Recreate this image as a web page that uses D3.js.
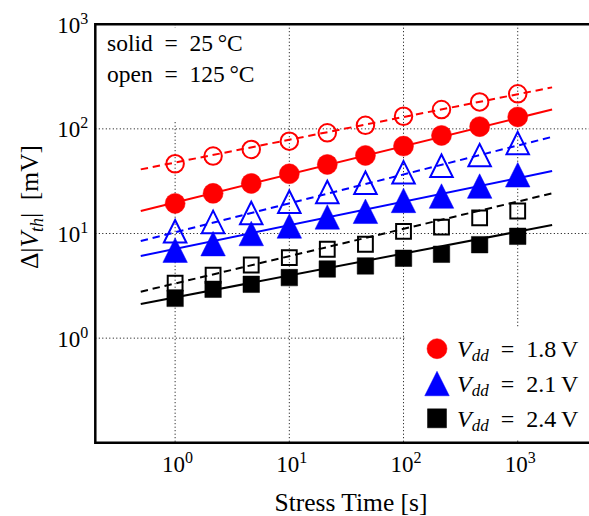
<!DOCTYPE html>
<html>
<head>
<meta charset="utf-8">
<script src="https://cdn.jsdelivr.net/npm/d3@7"></script>
<style>
  body { margin: 0; background: #fff; }
  svg { display: block; font-family: "Liberation Serif", "Times New Roman", serif; }
</style>
</head>
<body>
<svg width="589" height="516"></svg>
<script>
const svg = d3.select("svg");
const width = +svg.attr("width");
const height = +svg.attr("height");

// stress times (s), log spaced
const times = [1, 2.15, 4.64, 10, 21.5, 46.4, 100, 215, 464, 1000];

// measured shifts, mV (solid = 25 C, open = 125 C)
const v18solid = [19.4, 24.2, 30.1, 37.2, 45.7, 55.7, 68.4, 86.5, 105, 130];
const v18open = [46.4, 54.9, 63.6, 76.3, 91.6, 108, 132, 153, 181, 216];
const v21solid = [6.93, 8.0, 10.0, 11.8, 14.4, 16.3, 20.7, 22.8, 28.4, 36.4];
const v21open = [10.5, 12.9, 15.7, 20.1, 24.9, 30.5, 38.4, 44.4, 56.1, 73.1];
const v24solid = [2.40, 2.93, 3.27, 3.79, 4.58, 4.90, 5.80, 6.33, 7.82, 9.4];
const v24open = [3.35, 3.99, 5.0, 5.87, 7.07, 7.89, 10.5, 11.5, 14.1, 16.4];

// power-law fits, value at start / end of fit range
const fitTimes = [0.5, 2000];
const fit18solid = [16.4, 153];
const fit18open = [41, 249];
const fit21solid = [6.1, 39.5];
const fit21open = [8.48, 83.9];
const fit24solid = [2.12, 12.05];
const fit24open = [2.78, 24.2];

const voltages = ["1.8", "2.1", "2.4"];
const colors = ["#ff0000", "#0000ff", "#000000"];
const shapes = ["circle", "triangle", "square"];

const xTicks = [1, 10, 100, 1000];
const yTicks = [1, 10, 100, 1000];

const groups = [
  {solid: v18solid, open: v18open, fitSolid: fit18solid, fitOpen: fit18open},
  {solid: v21solid, open: v21open, fitSolid: fit21solid, fitOpen: fit21open},
  {solid: v24solid, open: v24open, fitSolid: fit24solid, fitOpen: fit24open}
];

const plotLeft = 95.3, plotTop = 24.2, plotBottom = 442.8;

const x = d3.scaleLog()
  .domain([0.2, 5000])
  .range([plotLeft, plotLeft + 4.398 * 114.2]);
const y = d3.scaleLog()
  .domain([0.1, 1000])
  .range([plotBottom, plotTop]);

svg.append("defs").append("clipPath")
  .attr("id", "plot")
  .append("rect")
  .attr("x", plotLeft).attr("y", plotTop)
  .attr("width", x.range()[1] - plotLeft).attr("height", plotBottom - plotTop);

// markers: matplotlib style (triangle as wide as it is tall)
function markerPath(shape, s) {
  const h = s / 2;
  if (shape === "circle") {
    return `M${h},0A${h},${h} 0 1,1 ${-h},0A${h},${h} 0 1,1 ${h},0Z`;
  }
  if (shape === "triangle") {
    return `M0,${-h}L${h},${h}L${-h},${h}Z`;
  }
  return `M${-h},${-h}H${h}V${h}H${-h}Z`;
}
const filledSize = {circle: 20, triangle: 24.5, square: 16.5};
const openSize = {circle: 17.5, triangle: 22.5, square: 14.8};

// grid
const grid = svg.append("g")
  .attr("stroke", "#000")
  .attr("stroke-width", 1)
  .attr("stroke-dasharray", "1,2.5");
grid.selectAll(".gx")
  .data(xTicks)
  .enter()
  .append("line")
  .attr("x1", d => x(d)).attr("x2", d => x(d))
  .attr("y1", plotTop).attr("y2", plotBottom);
grid.selectAll(".gy")
  .data(yTicks.slice(0, 3))
  .enter()
  .append("line")
  .attr("x1", plotLeft).attr("x2", width)
  .attr("y1", d => y(d)).attr("y2", d => y(d));

// white boxes behind the two legends
svg.append("rect")
  .attr("x", 97).attr("y", 28).attr("width", 172).attr("height", 94)
  .attr("fill", "#fff");
svg.append("rect")
  .attr("x", 405).attr("y", 328).attr("width", 200).attr("height", 112)
  .attr("fill", "#fff");

const line = d3.line()
  .x(d => x(d[0]))
  .y(d => y(d[1]));

const plot = svg.append("g").attr("clip-path", "url(#plot)");

groups.forEach(function(g, i) {
  const c = colors[i];
  const shape = shapes[i];

  // 125 C: open markers, dashed fit
  plot.append("path")
    .datum(fitTimes.map((t, k) => [t, g.fitOpen[k]]))
    .attr("d", line)
    .attr("fill", "none")
    .attr("stroke", c)
    .attr("stroke-width", 2)
    .attr("stroke-dasharray", "7.4,4.8");
  plot.append("g")
    .selectAll("path")
    .data(times.map((t, k) => [t, g.open[k]]))
    .enter()
    .append("path")
    .attr("transform", d => `translate(${x(d[0])},${y(d[1])})`)
    .attr("d", markerPath(shape, openSize[shape]))
    .attr("fill", "none")
    .attr("stroke", c)
    .attr("stroke-width", 2);

  // 25 C: filled markers, solid fit
  plot.append("path")
    .datum(fitTimes.map((t, k) => [t, g.fitSolid[k]]))
    .attr("d", line)
    .attr("fill", "none")
    .attr("stroke", c)
    .attr("stroke-width", 2);
  plot.append("g")
    .selectAll("path")
    .data(times.map((t, k) => [t, g.solid[k]]))
    .enter()
    .append("path")
    .attr("transform", d => `translate(${x(d[0])},${y(d[1])})`)
    .attr("d", markerPath(shape, filledSize[shape]))
    .attr("fill", c)
    .attr("stroke", c)
    .attr("stroke-width", 0.5);
});

// spines (right one falls outside the picture)
const spines = svg.append("g").attr("stroke", "#000").attr("stroke-width", 2.5);
spines.append("line").attr("x1", plotLeft).attr("x2", plotLeft).attr("y1", plotTop - 1.25).attr("y2", plotBottom + 1.25);
spines.append("line").attr("x1", plotLeft).attr("x2", width).attr("y1", plotTop).attr("y2", plotTop);
spines.append("line").attr("x1", plotLeft).attr("x2", width).attr("y1", plotBottom).attr("y2", plotBottom);

// tick labels as 10^n
function powerLabel(sel, d) {
  const e = Math.round(Math.log10(d));
  sel.text(null);
  sel.append("tspan").text("10");
  sel.append("tspan").attr("dy", -9).attr("font-size", 16).text(e);
}

svg.append("g")
  .attr("transform", `translate(0,${plotBottom})`)
  .call(d3.axisBottom(x).tickValues(xTicks).tickSize(0))
  .call(g => g.select(".domain").remove())
  .call(g => g.selectAll(".tick text")
    .attr("y", 29).attr("dy", null)
    .attr("x", 2)
    .attr("fill", "#000")
    .attr("font-size", 23)
    .attr("font-family", "'Liberation Serif', serif")
    .each(function(d) { powerLabel(d3.select(this), d); }));

svg.append("g")
  .attr("transform", `translate(${plotLeft},0)`)
  .call(d3.axisLeft(y).tickValues(yTicks).tickSize(0))
  .call(g => g.select(".domain").remove())
  .call(g => g.selectAll(".tick text")
    .attr("x", -7).attr("dy", null).attr("y", 8)
    .attr("fill", "#000")
    .attr("font-size", 23)
    .attr("font-family", "'Liberation Serif', serif")
    .each(function(d) { powerLabel(d3.select(this), d); }));

// axis titles
svg.append("text")
  .attr("x", 351).attr("y", 511)
  .attr("text-anchor", "middle")
  .attr("font-size", 25.5)
  .text("Stress Time [s]");

const ylab = svg.append("text")
  .attr("transform", "translate(37.5,207) rotate(-90)")
  .attr("text-anchor", "middle")
  .attr("font-size", 25.5);
ylab.append("tspan").text("\u0394|");
ylab.append("tspan").attr("font-style", "italic").text("V");
ylab.append("tspan").attr("font-style", "italic").attr("font-size", 18).attr("dy", 5).text("th");
ylab.append("tspan").attr("dy", -5).text("|\u2002[mV]");

// temperature note
const note = svg.append("g").attr("font-size", 23.5);
note.append("text").attr("x", 107).attr("y", 51).text("solid\u2002=\u200225\u2009\u00b0C");
note.append("text").attr("x", 107).attr("y", 82).text("open\u2002=\u2002125\u2009\u00b0C");

// legend
const legend = svg.append("g")
  .selectAll("g")
  .data(voltages)
  .enter()
  .append("g")
  .attr("transform", (d, i) => `translate(0,${348.7 + i * 34.8})`);

legend.append("path")
  .attr("transform", "translate(437,0)")
  .attr("d", (d, i) => markerPath(shapes[i], shapes[i] === "square" ? 19 : filledSize[shapes[i]]))
  .attr("fill", (d, i) => colors[i])
  .attr("stroke", (d, i) => colors[i])
  .attr("stroke-width", 0.5);

const ltext = legend.append("text")
  .attr("x", 457).attr("y", 8.5)
  .attr("font-size", 24);
ltext.append("tspan").attr("font-style", "italic").text("V");
ltext.append("tspan").attr("font-style", "italic").attr("font-size", 17).attr("dy", 4).text("dd");
ltext.append("tspan").attr("dy", -4).text(d => `\u2002=\u2002${d}\u2009V`);
</script>
</body>
</html>
